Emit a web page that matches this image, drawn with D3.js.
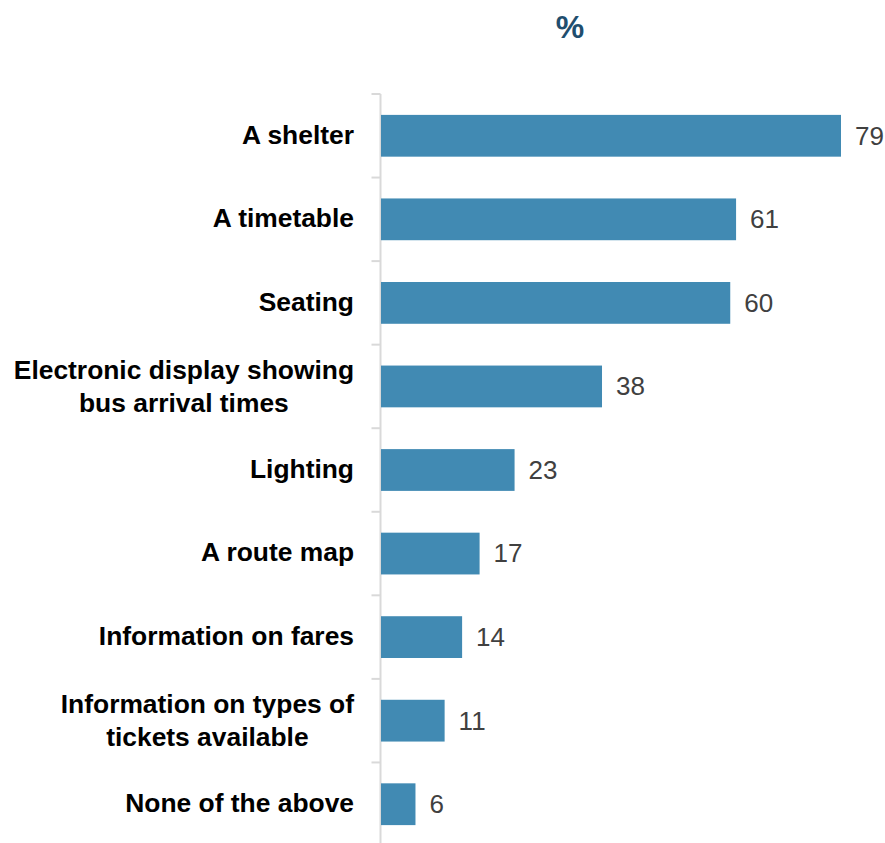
<!DOCTYPE html>
<html>
<head>
<meta charset="utf-8">
<script src="https://cdn.jsdelivr.net/npm/d3@7"></script>
<style>
  html, body { margin: 0; padding: 0; background: #ffffff; }
  svg { display: block; }
</style>
</head>
<body>
<svg id="chart" width="885" height="843"></svg>
<script>
// Bus stop features and the share of respondents choosing each (%)
const categories = [
  ["A shelter"],
  ["A timetable"],
  ["Seating"],
  ["Electronic display showing", "bus arrival times"],
  ["Lighting"],
  ["A route map"],
  ["Information on fares"],
  ["Information on types of", "tickets available"],
  ["None of the above"]
];
const values = [79, 61, 60, 38, 23, 17, 14, 11, 6];
const unitTitle = "%";

const svg = d3.select("#chart");
const axisX = 380.5;
const plotTop = 94, plotBottom = 846;

const x = d3.scaleLinear().domain([0, 79]).range([axisX, 841]);
const y = d3.scaleBand()
  .domain(d3.range(values.length))
  .range([plotTop, plotBottom])
  .paddingInner(0.5)
  .paddingOuter(0.25);

const labelFont = "'Liberation Sans', Arial, sans-serif";

// Title
svg.append("text")
  .attr("x", 570)
  .attr("y", 38)
  .attr("text-anchor", "middle")
  .attr("font-family", labelFont)
  .attr("font-weight", "bold")
  .attr("font-size", 32)
  .attr("fill", "#1f4e6e")
  .text(unitTitle);

// Vertical category axis with tick marks between categories
const step = y.step();
const axisG = svg.append("g");
axisG.append("line")
  .attr("x1", axisX).attr("x2", axisX)
  .attr("y1", plotTop).attr("y2", 843)
  .attr("stroke", "#d9d9d9").attr("stroke-width", 2);
d3.range(values.length).forEach(i => {
  axisG.append("line")
    .attr("x1", axisX - 9).attr("x2", axisX)
    .attr("y1", plotTop + i * step).attr("y2", plotTop + i * step)
    .attr("stroke", "#d9d9d9").attr("stroke-width", 2);
});

// Bars
svg.append("g").selectAll("rect")
  .data(values)
  .join("rect")
  .attr("x", x(0) + 0.5)
  .attr("y", (d, i) => y(i))
  .attr("width", d => x(d) - x(0) - 0.5)
  .attr("height", y.bandwidth())
  .attr("fill", "#418ab3");

// Value labels
svg.append("g").selectAll("text")
  .data(values)
  .join("text")
  .attr("x", d => x(d) + 14)
  .attr("y", (d, i) => y(i) + y.bandwidth() / 2)
  .attr("dy", "0.34em")
  .attr("font-family", labelFont)
  .attr("font-size", 26)
  .attr("fill", "#404040")
  .text(d => d);

// Category labels: right-aligned blocks, lines centred within each block
const catG = svg.append("g");
const labelRight = 354;
categories.forEach((lines, i) => {
  const cy = y(i) + y.bandwidth() / 2;
  const lh = 33;
  const t = catG.append("text")
    .attr("text-anchor", "middle")
    .attr("font-family", labelFont)
    .attr("font-weight", "bold")
    .attr("font-size", 26.4)
    .attr("fill", "#000000");
  const spans = lines.map((ln, j) => t.append("tspan")
    .attr("y", cy + (j - (lines.length - 1) / 2) * lh + (lines.length > 1 ? 1 : 0))
    .attr("dy", "0.3em")
    .text(ln));
  const maxW = d3.max(spans, s => s.node().getComputedTextLength());
  spans.forEach(s => s.attr("x", labelRight - maxW / 2));
});
</script>
</body>
</html>
